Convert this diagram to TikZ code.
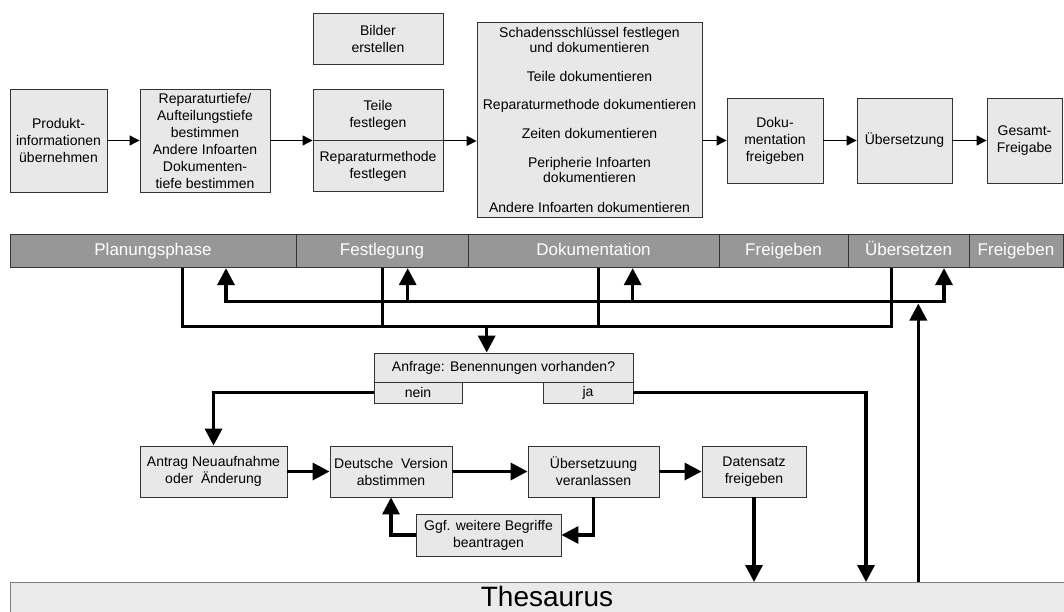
\documentclass[tikz,border=0pt]{standalone}
\usepackage{fontspec}
\setmainfont{Liberation Sans}
\usetikzlibrary{arrows.meta}
\definecolor{boxfill}{HTML}{E8E8E8}
\definecolor{boxdraw}{HTML}{333333}
\definecolor{phasefill}{HTML}{979797}
\definecolor{thesfill}{HTML}{EAEAEA}
\begin{document}
\begin{tikzpicture}[x=1pt,y=-1pt,
  box/.style={draw=boxdraw, fill=boxfill, line width=0.9pt, inner sep=0pt, align=center, font=\fontsize{14}{17}\selectfont},
  phasebox/.style={draw=boxdraw, fill=phasefill, line width=0.9pt, inner sep=0pt, text=white, font=\fontsize{17}{20}\selectfont, minimum height=33.4pt, text height=12pt, text depth=3.5pt},
  tarrow/.style={line width=1.1pt, -{Triangle[length=10pt,width=10pt]}},
  bline/.style={line width=3.4pt},
  barrow/.style={line width=3.4pt, -{Triangle[length=17pt,width=17pt]}},
]
\useasboundingbox (0,0) rectangle (1064,612);

% top process row
\node[box, minimum width=97pt, minimum height=103pt] (prod) at (58.5,140.5) {Produkt-\\informationen\\übernehmen};
\node[box, minimum width=130pt, minimum height=103pt] (rep) at (205,140.5) {Reparaturtiefe/\\Aufteilungstiefe\\bestimmen\\Andere Infoarten\\Dokumenten-\\tiefe bestimmen};
\node[box, minimum width=130pt, minimum height=51pt] (bild) at (378,38.5) {Bilder\\erstellen};
\node[box, minimum width=130pt, minimum height=51pt] (teile) at (378,115) {Teile\\festlegen};
\node[box, minimum width=130pt, minimum height=51pt] (repm) at (378,166) {Reparaturmethode\\festlegen};
\node[box, minimum width=225pt, minimum height=195pt, font=\fontsize{14}{15}\selectfont] (doc) at (589.5,119.5) {Schadensschlüssel festlegen\\und dokumentieren\\[14pt]Teile dokumentieren\\[13pt]Reparaturmethode dokumentieren\\[14pt]Zeiten dokumentieren\\[14pt]Peripherie Infoarten\\dokumentieren\\[15pt]Andere Infoarten dokumentieren};
\node[box, minimum width=96pt, minimum height=85pt] (dfrei) at (775,140.5) {Doku-\\mentation\\freigeben};
\node[box, minimum width=95pt, minimum height=85pt] (ueb) at (904.5,140.5) {Übersetzung};
\node[box, minimum width=75pt, minimum height=85pt] (ges) at (1024.5,140.5) {Gesamt-\\Freigabe};

\draw[tarrow] (prod.east) -- (rep.west);
\draw[tarrow] (rep.east) -- (rep.east -| teile.west);
\draw[tarrow] (teile.south east) -- (teile.south east -| doc.west);
\draw[tarrow] (doc.east |- dfrei.west) -- (dfrei.west);
\draw[tarrow] (dfrei.east) -- (ueb.west);
\draw[tarrow] (ueb.east) -- (ges.west);

% phase bar
\node[phasebox, minimum width=286pt] (p1) at (153,251) {Planungsphase};
\node[phasebox, minimum width=172pt] (p2) at (382,251) {Festlegung};
\node[phasebox, minimum width=251pt] (p3) at (593.5,251) {Dokumentation};
\node[phasebox, minimum width=129pt] (p4) at (783.5,251) {Freigeben};
\node[phasebox, minimum width=121pt] (p5) at (908.5,251) {Übersetzen};
\node[phasebox, minimum width=94pt] (p6) at (1016,251) {Freigeben};

% query box
\node[box, minimum width=259pt, minimum height=29pt] (anf) at (503.5,367.5) {Anfrage: Benennungen vorhanden?};
\node[box, minimum width=88pt, minimum height=21pt] (nein) at (418,392.5) {nein};
\node[box, minimum width=90pt, minimum height=21pt] (ja) at (588,392.5) {ja};

% lower process
\node[box, minimum width=147pt, minimum height=51pt] (antrag) at (213.5,471.5) {Antrag Neuaufnahme\\oder\ \ Änderung};
\node[box, minimum width=122pt, minimum height=51pt] (deut) at (391,471.5) {Deutsche\ \ Version\\abstimmen};
\node[box, minimum width=131pt, minimum height=51pt] (uver) at (593.5,471.5) {Übersetzuung\\veranlassen};
\node[box, minimum width=104pt, minimum height=51pt] (dsatz) at (754,471.5) {Datensatz\\freigeben};
\node[box, minimum width=145pt, minimum height=42pt] (ggf) at (488.5,535) {Ggf. weitere Begriffe\\beantragen};

% thesaurus bar
\node[draw=gray, fill=thesfill, line width=0.9pt, minimum width=1070pt, minimum height=40pt, anchor=north west, inner sep=0pt] (thes) at (10,582) {};
\node[font=\fontsize{28}{30}\selectfont, anchor=base, inner sep=0pt] (thestxt) at (547,606) {Thesaurus};

% network between phase bar and query
\draw[bline] (182.7,0 |- p1.south) -- (182.7,326.7) -- (891.7,326.7) -- (891.7,0 |- p5.south);
\draw[bline] (382.3,0 |- p2.south) -- (382.3,326.7);
\draw[bline] (598.3,0 |- p3.south) -- (598.3,326.7);
\draw[barrow] (486.7,326.7) -- (486.7,0 |- anf.north);
\draw[bline, {Triangle[length=17pt,width=17pt]}-{Triangle[length=17pt,width=17pt]}] (226,0 |- p1.south) -- (226,301.7) -- (944,301.7) -- (944,0 |- p5.south);
\draw[barrow] (407.7,301.7) -- (407.7,0 |- p2.south);
\draw[barrow] (632.7,301.7) -- (632.7,0 |- p3.south);

% lower connectors
\draw[barrow] (nein.west) -| (antrag.north);
\draw[barrow] (antrag.east) -- (deut.west);
\draw[barrow] (deut.east) -- (uver.west);
\draw[barrow] (uver.east) -- (dsatz.west);
\draw[barrow] (uver.south) |- (ggf.east);
\draw[barrow] (ggf.west) -| (deut.south);
\draw[barrow] (dsatz.south) -- (dsatz.south |- thes.north);
\draw[barrow] (ja.east) -| (866,0 |- thes.north);
\draw[barrow] (918.3,0 |- thes.north) -- (918.3,303.5);
\end{tikzpicture}
\end{document}
